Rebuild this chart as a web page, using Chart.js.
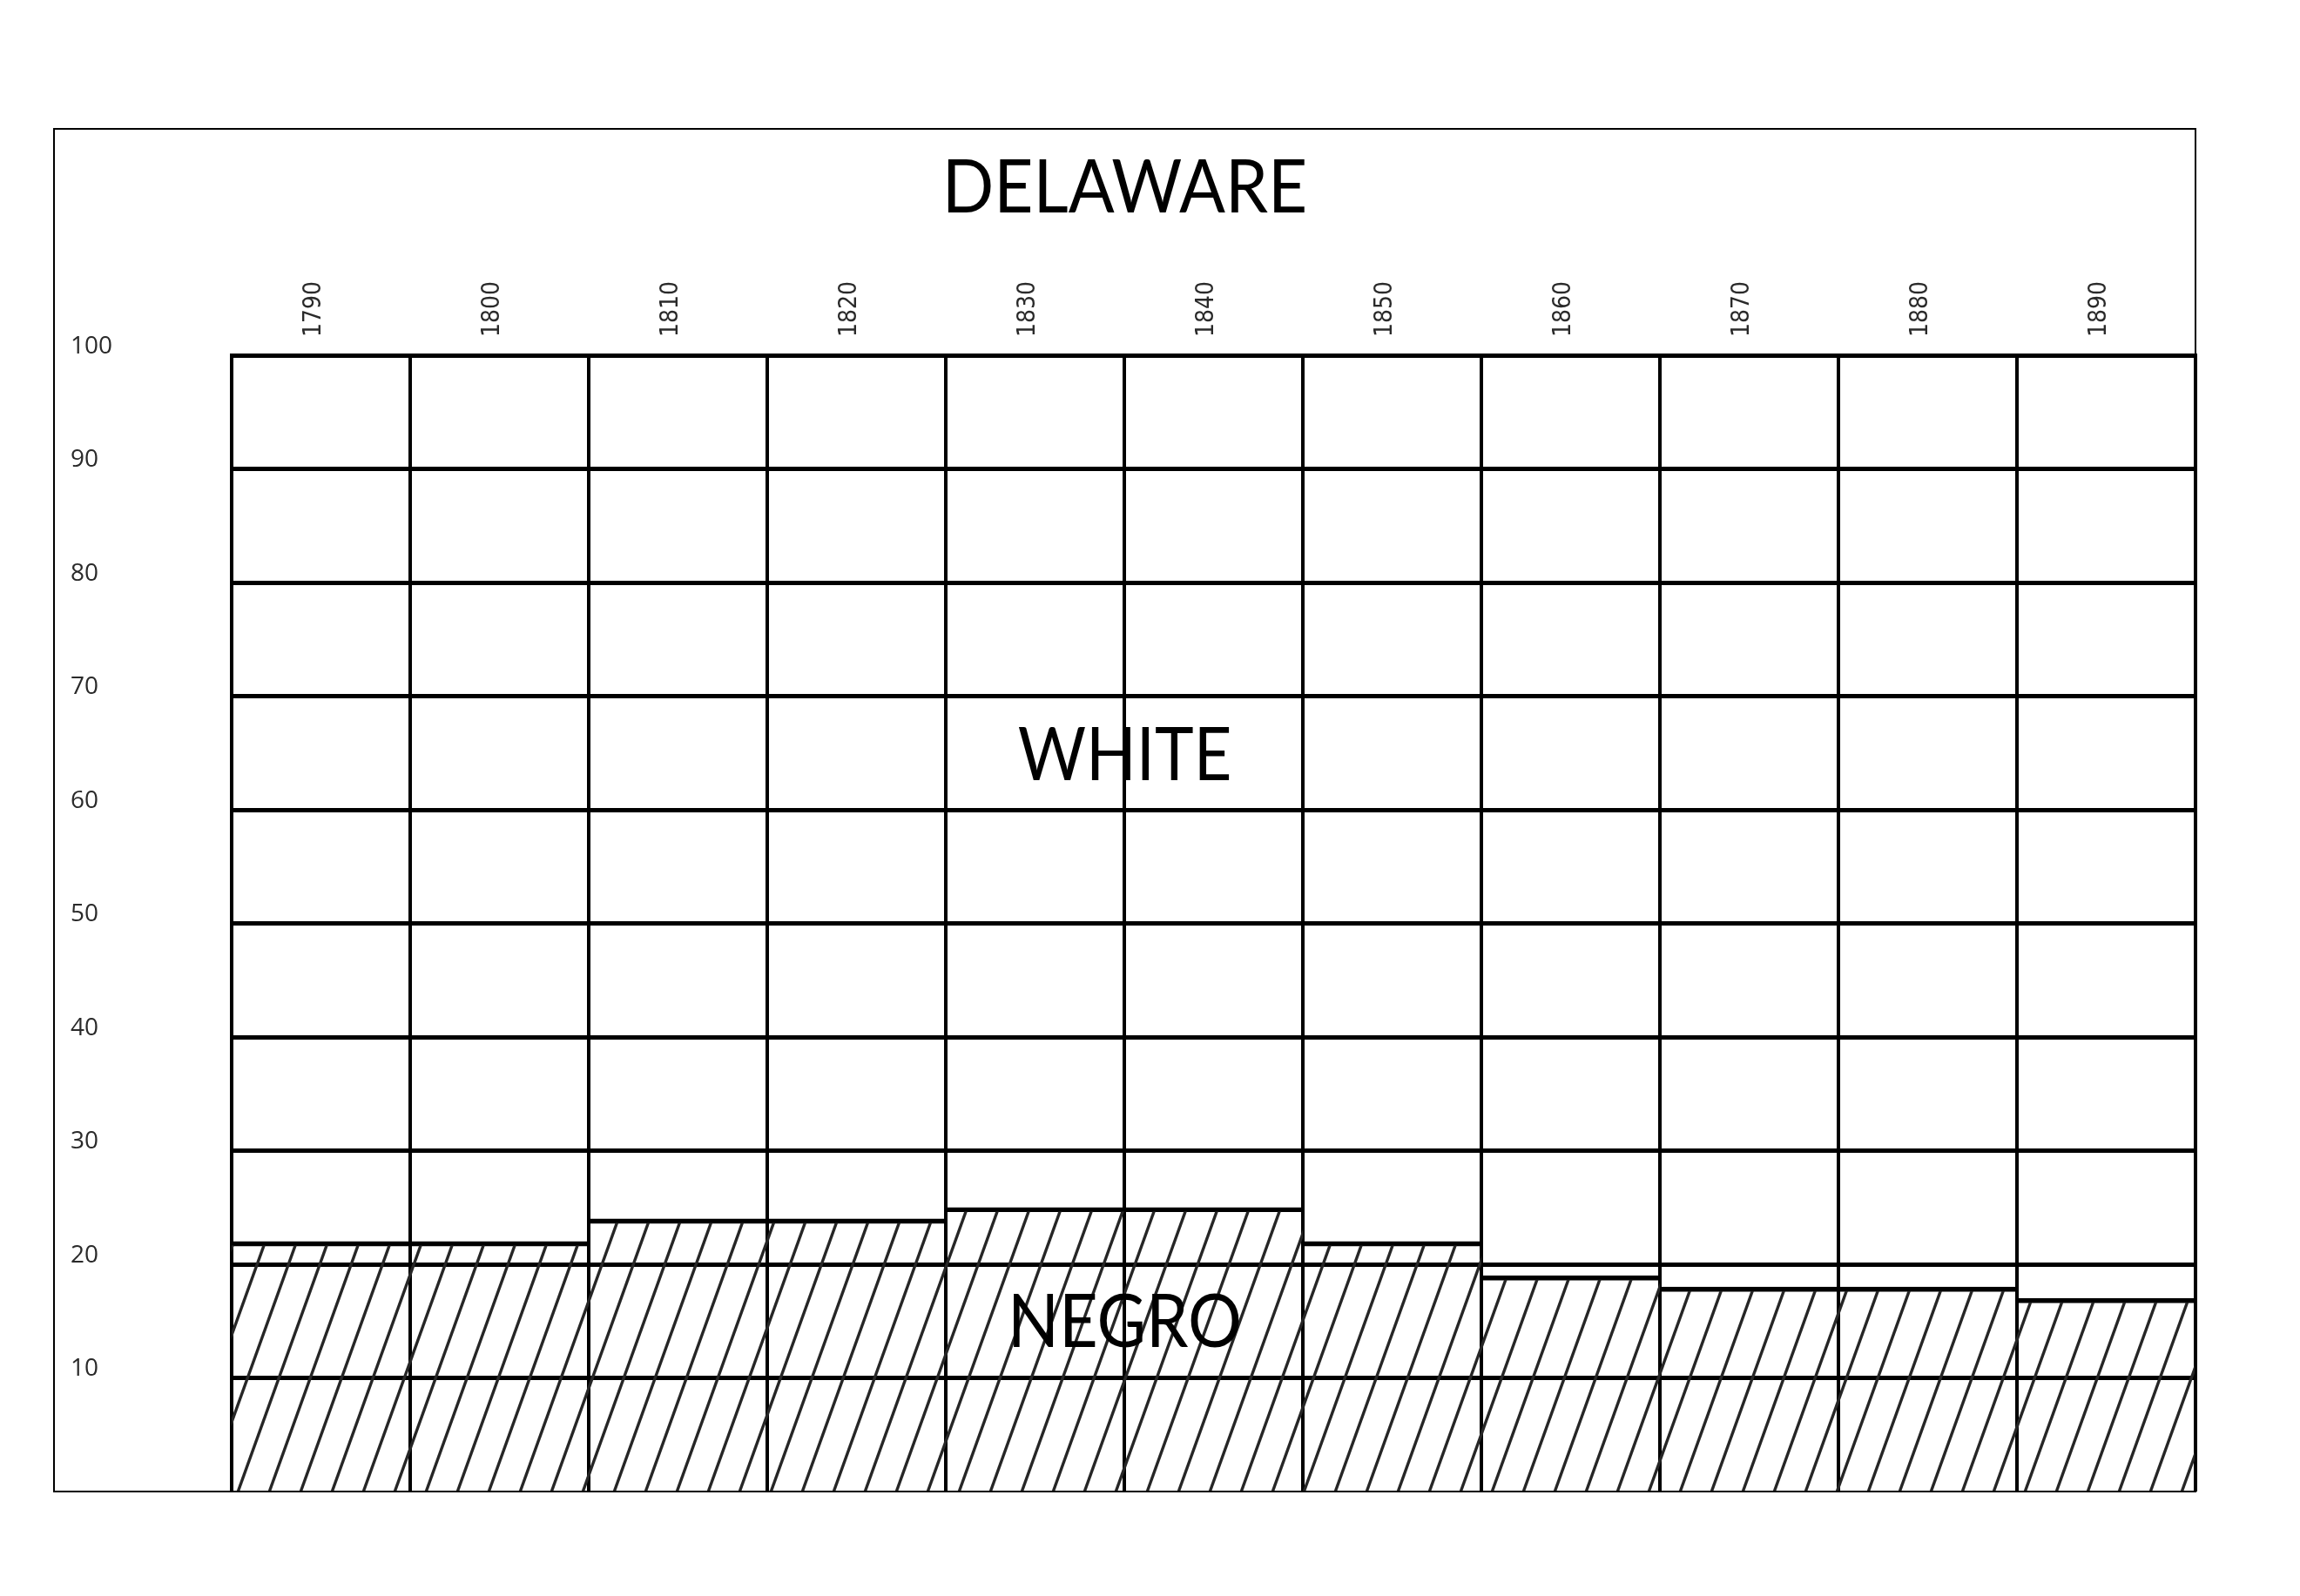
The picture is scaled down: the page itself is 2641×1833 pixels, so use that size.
<!DOCTYPE html>
<html>
<head>
<meta charset="utf-8">
<script src="https://cdn.jsdelivr.net/npm/chart.js@4"></script>
<style>
  html, body { margin: 0; padding: 0; background: #ffffff; }
  #wrap { width: 2641px; height: 1833px; position: relative; }
</style>
</head>
<body>
<div id="wrap"><canvas id="c" width="2641" height="1833"></canvas></div>
<script>
const years = ['1790', '1800', '1810', '1820', '1830', '1840', '1850', '1860', '1870', '1880', '1890'];
const negroPct = [22, 22, 24, 24, 25, 25, 22, 19, 18, 18, 17];
const yTicks = [0, 10, 20, 30, 40, 50, 60, 70, 80, 90, 100];
const chartTitle = 'DELAWARE';
const upperLabel = 'WHITE';
const lowerLabel = 'NEGRO';

function makeHatch() {
  const W = 36, H = 100;
  const c = document.createElement('canvas');
  c.width = W; c.height = H;
  const g = c.getContext('2d');
  g.strokeStyle = '#262626';
  g.lineWidth = 3.4;
  g.lineCap = 'butt';
  for (const off of [-W, 0, W]) {
    g.beginPath();
    g.moveTo(off - W * 0.02, H + 2);
    g.lineTo(off + W * 1.02, -2);
    g.stroke();
  }
  const p = document.createElement('canvas').getContext('2d').createPattern(c, 'repeat');
  try { p.setTransform(new DOMMatrix().translate(-10, 0)); } catch (e) {}
  return p;
}

function drawScaledText(ctx, text, x, y, sx) {
  ctx.save();
  ctx.translate(x, y);
  ctx.scale(sx, 1);
  ctx.fillText(text, 0, 0);
  ctx.restore();
}

const framePlugin = {
  id: 'frame',
  beforeDraw(chart) {
    const { ctx } = chart;
    ctx.save();
    ctx.fillStyle = '#ffffff';
    ctx.fillRect(0, 0, chart.width, chart.height);
    ctx.restore();
  },
  afterDraw(chart) {
    const { ctx, chartArea: a, scales } = chart;
    const left = a.left - 204, top = a.top - 260, right = a.right, bottom = a.bottom;
    ctx.save();
    ctx.strokeStyle = '#000';
    ctx.lineWidth = 2;
    ctx.strokeRect(left, top, right - left, bottom - top);
    const cx = (left + right) / 2;
    ctx.fillStyle = '#000';
    ctx.textAlign = 'center';
    ctx.textBaseline = 'alphabetic';
    ctx.font = '86px Lato';
    drawScaledText(ctx, chartTitle, cx, a.top - 164, 0.91);
    drawScaledText(ctx, upperLabel, cx, scales.y.getPixelForValue(62.6), 0.88);
    drawScaledText(ctx, lowerLabel, cx, scales.y.getPixelForValue(12.7), 0.9);
    ctx.restore();
  }
};

const ctx = document.getElementById('c').getContext('2d');
new Chart(ctx, {
  type: 'bar',
  data: {
    labels: years,
    datasets: [{
      label: 'Negro',
      data: negroPct,
      backgroundColor: makeHatch(),
      borderColor: '#000',
      borderWidth: { top: 5, left: 0, right: 0, bottom: 0 },
      borderSkipped: 'start',
      barPercentage: 1,
      categoryPercentage: 1
    }]
  },
  options: {
    responsive: false,
    animation: false,
    devicePixelRatio: 1,
    layout: { padding: { left: 81, right: 120, bottom: 120, top: 278 } },
    plugins: {
      legend: { display: false },
      title: { display: false },
      tooltip: { enabled: false }
    },
    scales: {
      x: {
        type: 'category',
        position: 'top',
        offset: true,
        grid: { offset: true, color: '#000', lineWidth: 4, drawTicks: false },
        border: { display: true, color: '#000', width: 5 },
        ticks: {
          autoSkip: false,
          minRotation: 90,
          maxRotation: 90,
          padding: 21,
          labelOffset: 26,
          color: '#2a2a2a',
          font: { family: "'DejaVu Sans Condensed', 'DejaVu Sans'", size: 28 }
        },
        afterFit(s) { s.height = 130; }
      },
      y: {
        min: 0,
        max: 100,
        afterBuildTicks(s) { s.ticks = yTicks.map(v => ({ value: v })); },
        grid: {
          color: '#000',
          lineWidth: c => (c.tick && c.tick.value === 0 ? 2 : 5),
          drawTicks: false
        },
        border: { display: true, color: '#000', width: 4 },
        ticks: {
          crossAlign: 'far',
          padding: 0,
          labelOffset: -10,
          color: '#2a2a2a',
          font: { family: 'Open Sans', size: 28 },
          callback: v => (v === 0 ? '' : String(v))
        },
        afterFit(s) { s.width = 185; }
      }
    }
  },
  plugins: [framePlugin]
});
</script>
</body>
</html>
